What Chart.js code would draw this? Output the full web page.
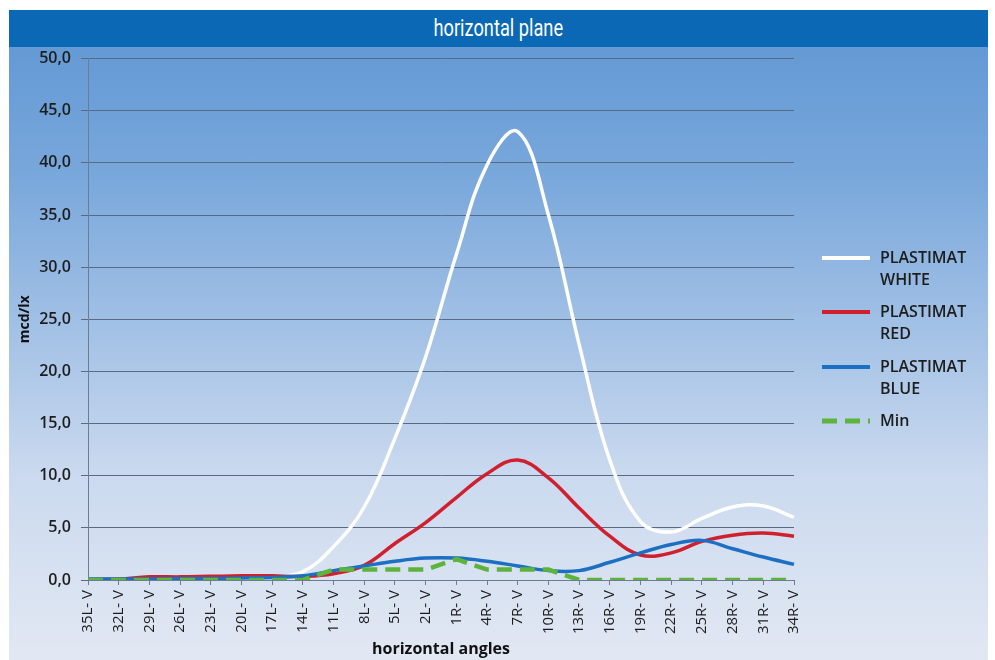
<!DOCTYPE html>
<html>
<head>
<meta charset="utf-8">
<script src="https://cdn.jsdelivr.net/npm/chart.js@4.4.1/dist/chart.umd.min.js"></script>
<style>
    html, body { margin: 0; padding: 0; background: #ffffff; }
    #page { position: relative; width: 995px; height: 660px; background: #ffffff; overflow: hidden; }
    #panel {
        position: absolute; left: 9px; top: 10px; width: 979px; height: 650px;
        background: linear-gradient(to bottom, #5e96d3 0%, #78a7db 25%, #a4c2e6 50%, #cbdaef 72%, #e2e8f3 100%);
    }
    #titleBar {
        position: absolute; left: 0; top: 0; width: 979px; height: 37px;
        background: #0a68b4; color: #ffffff; text-align: center;
        font-family: Roboto, "DejaVu Sans", sans-serif;
        font-size: 24px; line-height: 37px;
    }
    #titleBar span { display: inline-block; transform: scaleX(0.76); }
    #chartBox { position: absolute; left: 0; top: 29px; width: 979px; height: 621px; }
</style>
</head>
<body>
<div id="page">
    <div id="panel">
        <div id="titleBar"><span>horizontal plane</span></div>
        <div id="chartBox"><canvas id="planeChart"></canvas></div>
    </div>
</div>
<script>
const angleLabels = ['35L- V', '32L- V', '29L- V', '26L- V', '23L- V', '20L- V', '17L- V', '14L- V',
    '11L- V', '8L- V', '5L- V', '2L- V', '1R- V', '4R- V', '7R- V', '10R- V',
    '13R- V', '16R- V', '19R- V', '22R- V', '25R- V', '28R- V', '31R- V', '34R- V'];

const whiteValues = [0.1, 0.1, 0.15, 0.2, 0.2, 0.25, 0.3, 0.8, 3.2, 7.0, 13.6, 21.4,
    31.2, 39.8, 43.0, 35.0, 22.6, 11.5, 5.6, 4.6, 5.9, 7.0, 7.1, 6.0];
const redValues = [0.05, 0.1, 0.3, 0.3, 0.35, 0.4, 0.4, 0.35, 0.6, 1.4, 3.5, 5.5,
    7.9, 10.2, 11.5, 9.8, 6.9, 4.2, 2.4, 2.6, 3.7, 4.3, 4.5, 4.2];
const blueValues = [0.1, 0.1, 0.1, 0.15, 0.15, 0.2, 0.25, 0.4, 0.9, 1.35, 1.8, 2.1,
    2.1, 1.8, 1.35, 0.9, 0.9, 1.7, 2.6, 3.4, 3.8, 3.0, 2.2, 1.5];
const minValues = [0, 0, 0, 0, 0, 0, 0, 0, 1, 1, 1, 1,
    2, 1, 1, 1, 0, 0, 0, 0, 0, 0, 0, 0];

const seriesNames = [['PLASTIMAT', 'WHITE'], ['PLASTIMAT', 'RED'], ['PLASTIMAT', 'BLUE'], ['Min']];
const yTicks = [0, 5, 10, 15, 20, 25, 30, 35, 40, 45, 50];

const textFont = '"Open Sans", "Liberation Sans", sans-serif';

// legend on the right, drawn by hand because of the two-line labels
const sideLegend = {
    id: 'sideLegend',
    afterDraw(chart) {
        const ctx = chart.ctx;
        const rows = [219, 273, 328, 382];
        ctx.save();
        ctx.font = '600 16px ' + textFont;
        ctx.fillStyle = '#1d1d1d';
        ctx.textBaseline = 'middle';
        chart.data.datasets.forEach((ds, i) => {
            const y = rows[i];
            ctx.strokeStyle = ds.borderColor;
            ctx.lineWidth = ds.borderWidth + 0.5;
            ctx.setLineDash(ds.borderDash || []);
            ctx.beginPath();
            ctx.moveTo(813, y);
            ctx.lineTo(861, y);
            ctx.stroke();
            ctx.setLineDash([]);
            seriesNames[i].forEach((line, k) => {
                ctx.fillText(line, 871, y + k * 22);
            });
        });
        ctx.restore();
    }
};

const ctx = document.getElementById('planeChart').getContext('2d');
new Chart(ctx, {
    type: 'line',
    data: {
        labels: angleLabels,
        datasets: [
            { data: whiteValues, borderColor: '#ffffff', borderWidth: 3.5, tension: 0.4, order: 4 },
            { data: redValues, borderColor: '#d0202e', borderWidth: 3.5, tension: 0.4, order: 3 },
            { data: blueValues, borderColor: '#1c6fc2', borderWidth: 3.5, tension: 0.4, order: 2 },
            { data: minValues, borderColor: '#5db43c', borderWidth: 4.5, borderDash: [15, 8], tension: 0, order: 1 }
        ]
    },
    options: {
        responsive: true,
        maintainAspectRatio: false,
        animation: false,
        events: [],
        elements: { point: { radius: 0 } },
        layout: { padding: { left: 0, top: 3, right: 194, bottom: 0 } },
        plugins: {
            legend: { display: false },
            tooltip: { enabled: false }
        },
        scales: {
            x: {
                offset: false,
                grid: { display: true, drawOnChartArea: false, drawTicks: true, tickLength: 5, color: '#6d7c94' },
                border: { display: true, color: '#6d7c94', width: 1 },
                ticks: {
                    autoSkip: false,
                    minRotation: 90,
                    maxRotation: 90,
                    padding: 5,
                    color: '#1d1d1d',
                    font: { family: textFont, size: 15 }
                },
                title: {
                    display: true,
                    text: 'horizontal angles',
                    color: '#111111',
                    font: { family: textFont, size: 16, weight: 'bold' },
                    padding: { top: 0, bottom: 1 }
                },
                afterFit: (scale) => { scale.height = 80; }
            },
            y: {
                min: 0,
                max: 50,
                afterBuildTicks: (scale) => { scale.ticks = yTicks.map(v => ({ value: v })); },
                grid: { color: '#5a6a84', lineWidth: 1, tickLength: 7, drawTicks: true },
                border: { display: true, color: '#6d7c94', width: 1 },
                ticks: {
                    padding: 10,
                    color: '#1d1d1d',
                    font: { family: textFont, size: 16, weight: '600' },
                    callback: (value) => value.toFixed(1).replace('.', ',')
                },
                title: {
                    display: true,
                    text: 'mcd/lx',
                    color: '#111111',
                    font: { family: textFont, size: 14, weight: 'bold' },
                    padding: { top: 8, bottom: 0 }
                },
                afterFit: (scale) => { scale.width = 79; }
            }
        }
    },
    plugins: [sideLegend]
});
</script>
</body>
</html>
